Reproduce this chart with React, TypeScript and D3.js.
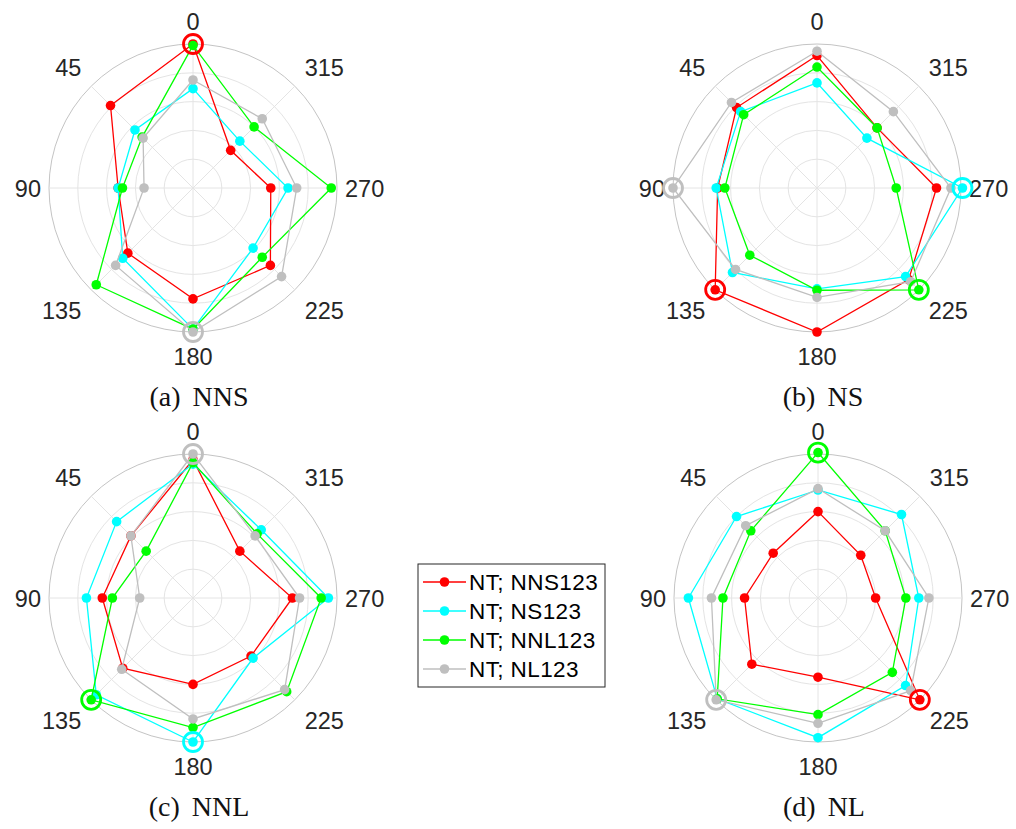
import React from "react";
import * as d3 from "d3";

const ANGLES = [0, 45, 90, 135, 180, 225, 270, 315];
const R_TICKS = [0.2, 0.4, 0.6, 0.8, 1.0];
const SERIES_NAMES = ["NT; NNS123", "NT; NS123", "NT; NNL123", "NT; NL123"];
const SERIES_COLORS = ["#ff0000", "#00ffff", "#00ff00", "#bfbfbf"];
const CAPTIONS = ["(a) NNS", "(b) NS", "(c) NNL", "(d) NL"];

// Panel (a) NNS
const A_NNS = [1.0, 0.81, 0.52, 0.64, 0.77, 0.76, 0.54, 0.37];
const A_NS = [0.69, 0.57, 0.52, 0.69, 0.98, 0.59, 0.66, 0.46];
const A_NNL = [0.99, 0.5, 0.49, 0.95, 0.98, 0.68, 0.96, 0.6];
const A_NL = [0.75, 0.49, 0.34, 0.76, 1.0, 0.87, 0.72, 0.68];
const A_RINGS = [[0, 0], [3, 180]];

// Panel (b) NS
const B_NNS = [0.92, 0.79, 0.69, 1.0, 1.0, 0.9, 0.83, 0.59];
const B_NS = [0.73, 0.75, 0.7, 0.83, 0.7, 0.87, 1.01, 0.49];
const B_NNL = [0.84, 0.72, 0.64, 0.66, 0.71, 1.0, 0.55, 0.59];
const B_NL = [0.95, 0.84, 1.0, 0.8, 0.76, 0.92, 0.93, 0.75];
const B_RINGS = [[3, 90], [1, 270], [0, 135], [2, 225]];

// Panel (c) NNL
const C_NNS = [0.96, 0.61, 0.63, 0.69, 0.6, 0.57, 0.69, 0.46];
const C_NS = [0.93, 0.75, 0.74, 0.95, 1.0, 0.59, 0.94, 0.67];
const C_NNL = [0.94, 0.46, 0.56, 1.0, 0.9, 0.92, 0.89, 0.63];
const C_NL = [1.0, 0.61, 0.37, 0.7, 0.84, 0.9, 0.74, 0.61];
const C_RINGS = [[3, 0], [2, 135], [1, 180]];

// Panel (d) NL
const D_NNS = [0.6, 0.44, 0.51, 0.65, 0.55, 1.0, 0.4, 0.42];
const D_NS = [0.75, 0.8, 0.9, 0.99, 0.97, 0.86, 0.7, 0.82];
const D_NNL = [1.01, 0.66, 0.66, 0.99, 0.81, 0.73, 0.61, 0.66];
const D_NL = [0.76, 0.71, 0.74, 1.0, 0.87, 0.91, 0.77, 0.66];
const D_RINGS = [[2, 0], [3, 135], [0, 225]];

const PANELS = [
  { cx: 193, cy: 188, series: [A_NNS, A_NS, A_NNL, A_NL], rings: A_RINGS, caption: CAPTIONS[0] },
  { cx: 817, cy: 188, series: [B_NNS, B_NS, B_NNL, B_NL], rings: B_RINGS, caption: CAPTIONS[1] },
  { cx: 193, cy: 598, series: [C_NNS, C_NS, C_NNL, C_NL], rings: C_RINGS, caption: CAPTIONS[2] },
  { cx: 818, cy: 598, series: [D_NNS, D_NS, D_NNL, D_NL], rings: D_RINGS, caption: CAPTIONS[3] },
];

const R = 144;
const SANS = "'Liberation Sans', Arial, Helvetica, sans-serif";
const SERIF = "'Liberation Serif', 'Times New Roman', serif";

function Panel({ cx, cy, series, rings, caption }: any) {
  const r = d3.scaleLinear().domain([0, 1]).range([0, R]);
  const rad = (deg: number) => (deg * Math.PI) / 180;
  const px = (deg: number, v: number) => cx - r(v) * Math.sin(rad(deg));
  const py = (deg: number, v: number) => cy - r(v) * Math.cos(rad(deg));
  const line = d3
    .lineRadial<number>()
    .angle((_d, i) => -rad(ANGLES[i]))
    .radius((d) => r(d))
    .curve(d3.curveLinearClosed);

  const labels = ANGLES.map((a) => {
    const s = -Math.sin(rad(a));
    const c = -Math.cos(rad(a));
    const horiz = Math.abs(c) < 0.01;
    const pad = horiz ? 8 : 14;
    let x = cx + (R + pad) * s;
    let y = cy + (R + pad) * c;
    let anchor = "middle";
    if (s > 0.01) anchor = "start";
    else if (s < -0.01) anchor = "end";
    if (horiz) y += 8.5;
    else if (c > 0) y += 19;
    return { a, x, y, anchor };
  });

  return (
    <g>
      {R_TICKS.map((t) => (
        <circle
          key={t}
          cx={cx}
          cy={cy}
          r={r(t)}
          fill="none"
          stroke={t === 1 ? "#c4c4c4" : "#e4e4e4"}
          strokeWidth={1}
        />
      ))}
      {ANGLES.map((a) => (
        <line key={a} x1={cx} y1={cy} x2={px(a, 1)} y2={py(a, 1)} stroke="#e4e4e4" strokeWidth={1} />
      ))}
      {labels.map((l) => (
        <text key={l.a} x={l.x} y={l.y} textAnchor={l.anchor} fontFamily={SANS} fontSize={23.5} fill="#262626">
          {l.a}
        </text>
      ))}
      {series.map((vals: number[], si: number) => (
        <g key={si}>
          <path d={line(vals) || ""} transform={`translate(${cx},${cy})`} fill="none" stroke={SERIES_COLORS[si]} strokeWidth={1.3} />
          {vals.map((v, i) => (
            <circle key={i} cx={px(ANGLES[i], v)} cy={py(ANGLES[i], v)} r={4.8} fill={SERIES_COLORS[si]} />
          ))}
        </g>
      ))}
      {rings.map(([si, a]: number[], k: number) => {
        const v = series[si][ANGLES.indexOf(a)];
        return (
          <circle key={k} cx={px(a, v)} cy={py(a, v)} r={9.5} fill="none" stroke={SERIES_COLORS[si]} strokeWidth={2.8} />
        );
      })}
      <text x={cx + 6} y={cy + 218} textAnchor="middle" fontFamily={SERIF} fontSize={28} wordSpacing={5} fill="#111">
        {caption}
      </text>
    </g>
  );
}

function Legend() {
  const x0 = 418, y0 = 564, w = 187, h = 123;
  const rowY = d3.scaleLinear().domain([0, 3]).range([582, 669]);
  return (
    <g>
      <rect x={x0} y={y0} width={w} height={h} fill="#fff" stroke="#262626" strokeWidth={1} />
      {SERIES_NAMES.map((n, i) => (
        <g key={n}>
          <line x1={423} x2={466} y1={rowY(i)} y2={rowY(i)} stroke={SERIES_COLORS[i]} strokeWidth={1.3} />
          <circle cx={444.5} cy={rowY(i)} r={4.8} fill={SERIES_COLORS[i]} />
          <text x={469} y={rowY(i) + 8} fontFamily={SANS} fontSize={22.5} letterSpacing={0.4} fill="#000">
            {n}
          </text>
        </g>
      ))}
    </g>
  );
}

export default function App() {
  return (
    <svg width={1016} height={829} style={{ position: "absolute", left: 0, top: 0, background: "#fff" }}>
      <rect x={0} y={0} width={1016} height={829} fill="#fff" />
      {PANELS.map((p, i) => (
        <Panel key={i} {...p} />
      ))}
      <Legend />
    </svg>
  );
}
